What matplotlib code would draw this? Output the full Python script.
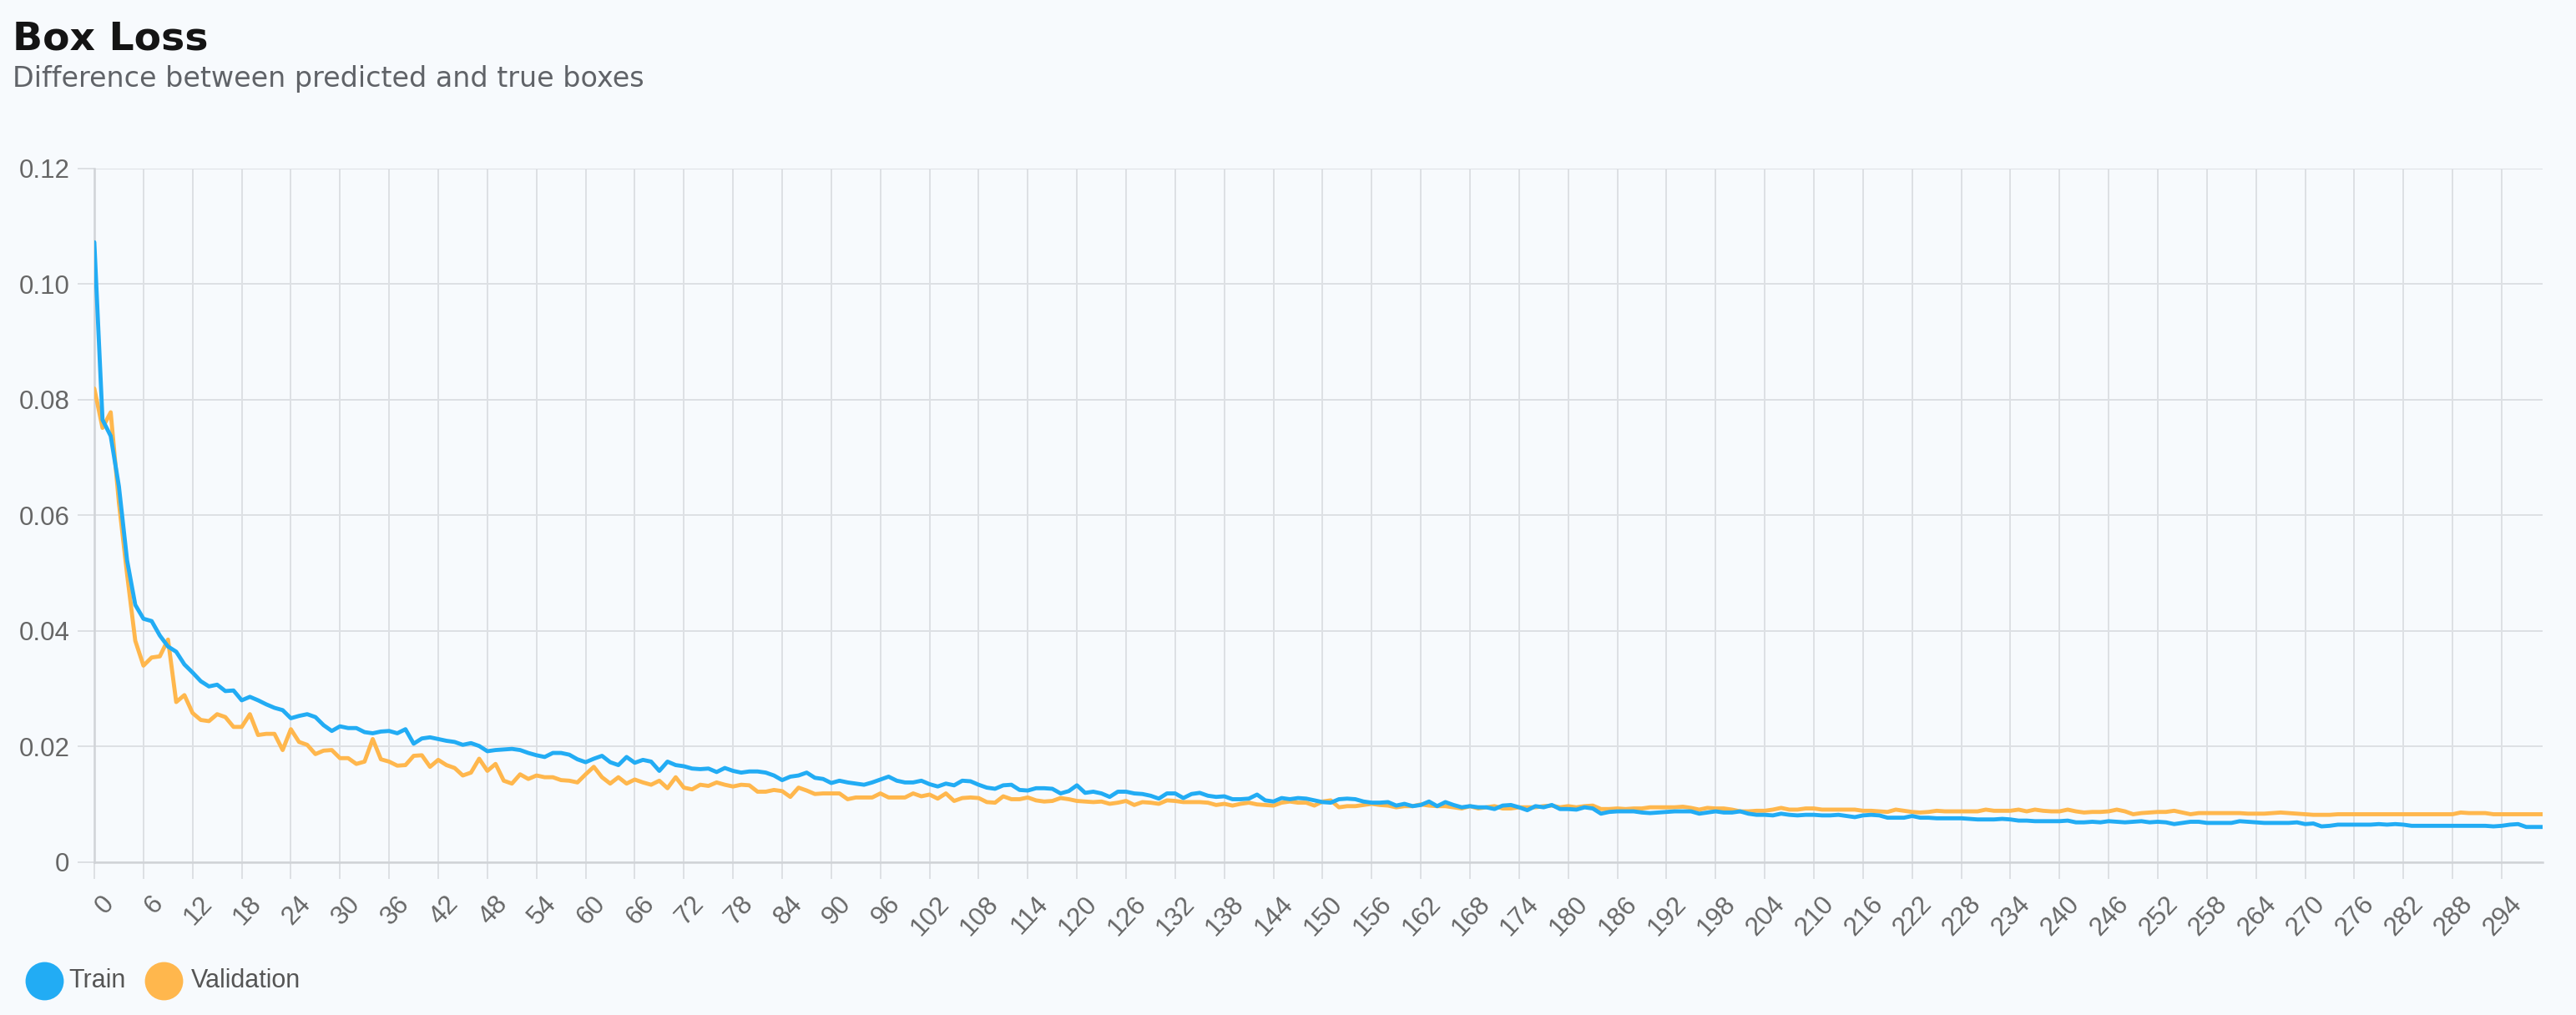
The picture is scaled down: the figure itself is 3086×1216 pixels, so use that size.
import matplotlib
matplotlib.use("Agg")
import matplotlib.pyplot as plt
from matplotlib.lines import Line2D
from matplotlib.transforms import ScaledTranslation

title = "Box Loss"
subtitle = "Difference between predicted and true boxes"
series_names = ["Train", "Validation"]

train = [
    0.1072, 0.0765, 0.0737, 0.0650, 0.0522, 0.0445, 0.0421, 0.0417, 0.0392, 0.0373,
    0.0364, 0.0342, 0.0328, 0.0313, 0.0304, 0.0307, 0.0296, 0.0297, 0.0280, 0.0286,
    0.0280, 0.0273, 0.0267, 0.0263, 0.0249, 0.0253, 0.0256, 0.0251, 0.0237, 0.0227,
    0.0235, 0.0232, 0.0232, 0.0225, 0.0223, 0.0226, 0.0227, 0.0223, 0.0230, 0.0205,
    0.0214, 0.0216, 0.0213, 0.0210, 0.0208, 0.0203, 0.0206, 0.0201, 0.0192, 0.0194,
    0.0195, 0.0196, 0.0194, 0.0189, 0.0185, 0.0182, 0.0189, 0.0189, 0.0186, 0.0178,
    0.0173, 0.0179, 0.0184, 0.0173, 0.0168, 0.0182, 0.0172, 0.0177, 0.0174, 0.0158,
    0.0174, 0.0168, 0.0166, 0.0162, 0.0161, 0.0162, 0.0156, 0.0163, 0.0158, 0.0155,
    0.0157, 0.0157, 0.0155, 0.0150, 0.0142, 0.0148, 0.0150, 0.0155, 0.0146, 0.0144,
    0.0137, 0.0141, 0.0138, 0.0136, 0.0134, 0.0138, 0.0143, 0.0148, 0.0141, 0.0138,
    0.0138, 0.0141, 0.0135, 0.0131, 0.0136, 0.0133, 0.0141, 0.0140, 0.0134, 0.0129,
    0.0127, 0.0133, 0.0134, 0.0125, 0.0124, 0.0128, 0.0128, 0.0127, 0.0119, 0.0123,
    0.0133, 0.0120, 0.0122, 0.0119, 0.0113, 0.0122, 0.0122, 0.0119, 0.0118, 0.0115,
    0.0110, 0.0119, 0.0119, 0.0111, 0.0118, 0.0120, 0.0115, 0.0113, 0.0114, 0.0109,
    0.0109, 0.0110, 0.0117, 0.0107, 0.0105, 0.0111, 0.0109, 0.0111, 0.0110, 0.0107,
    0.0104, 0.0103, 0.0109, 0.0110, 0.0109, 0.0105, 0.0103, 0.0103, 0.0104, 0.0098,
    0.0101, 0.0097, 0.0099, 0.0105, 0.0097, 0.0104, 0.0099, 0.0095, 0.0097, 0.0095,
    0.0095, 0.0092, 0.0098, 0.0099, 0.0095, 0.0090, 0.0097, 0.0095, 0.0099, 0.0092,
    0.0092, 0.0091, 0.0095, 0.0093, 0.0084, 0.0087, 0.0088, 0.0088, 0.0088, 0.0086,
    0.0085, 0.0086, 0.0087, 0.0088, 0.0088, 0.0088, 0.0084, 0.0086, 0.0088, 0.0086,
    0.0086, 0.0088, 0.0084, 0.0082, 0.0082, 0.0081, 0.0084, 0.0082, 0.0081, 0.0082,
    0.0082, 0.0081, 0.0081, 0.0082, 0.0080, 0.0078, 0.0081, 0.0082, 0.0081, 0.0077,
    0.0077, 0.0077, 0.0080, 0.0077, 0.0077, 0.0076, 0.0076, 0.0076, 0.0076, 0.0075,
    0.0074, 0.0074, 0.0074, 0.0075, 0.0074, 0.0072, 0.0072, 0.0071, 0.0071, 0.0071,
    0.0071, 0.0072, 0.0069, 0.0069, 0.0070, 0.0069, 0.0071, 0.0070, 0.0069, 0.0070,
    0.0071, 0.0069, 0.0070, 0.0069, 0.0066, 0.0068, 0.0070, 0.0070, 0.0068, 0.0068,
    0.0068, 0.0068, 0.0071, 0.0070, 0.0069, 0.0068, 0.0068, 0.0068, 0.0068, 0.0069,
    0.0066, 0.0067, 0.0062, 0.0063, 0.0065, 0.0065, 0.0065, 0.0065, 0.0065, 0.0066,
    0.0065, 0.0066, 0.0065, 0.0063, 0.0063, 0.0063, 0.0063, 0.0063, 0.0063, 0.0063,
    0.0063, 0.0063, 0.0063, 0.0062, 0.0063, 0.0065, 0.0066, 0.0061, 0.0061, 0.0061,
]

validation = [
    0.0819, 0.0751, 0.0778, 0.0622, 0.0498, 0.0383, 0.0340, 0.0354, 0.0356, 0.0385,
    0.0277, 0.0289, 0.0258, 0.0246, 0.0244, 0.0256, 0.0251, 0.0234, 0.0234, 0.0256,
    0.0220, 0.0222, 0.0222, 0.0194, 0.0230, 0.0208, 0.0203, 0.0187, 0.0193, 0.0194,
    0.0180, 0.0180, 0.0170, 0.0174, 0.0213, 0.0178, 0.0174, 0.0167, 0.0168, 0.0184,
    0.0185, 0.0165, 0.0177, 0.0168, 0.0163, 0.0150, 0.0155, 0.0179, 0.0158, 0.0170,
    0.0141, 0.0136, 0.0152, 0.0144, 0.0150, 0.0147, 0.0147, 0.0142, 0.0141, 0.0138,
    0.0152, 0.0165, 0.0147, 0.0136, 0.0147, 0.0136, 0.0143, 0.0138, 0.0134, 0.0141,
    0.0128, 0.0147, 0.0129, 0.0126, 0.0134, 0.0132, 0.0138, 0.0134, 0.0131, 0.0134,
    0.0133, 0.0122, 0.0122, 0.0125, 0.0123, 0.0113, 0.0129, 0.0124, 0.0118, 0.0119,
    0.0119, 0.0119, 0.0109, 0.0112, 0.0112, 0.0112, 0.0119, 0.0112, 0.0112, 0.0112,
    0.0119, 0.0114, 0.0117, 0.0110, 0.0119, 0.0106, 0.0111, 0.0112, 0.0111, 0.0104,
    0.0103, 0.0114, 0.0109, 0.0109, 0.0112, 0.0107, 0.0105, 0.0106, 0.0111, 0.0109,
    0.0106, 0.0105, 0.0104, 0.0105, 0.0101, 0.0103, 0.0106, 0.0099, 0.0104, 0.0103,
    0.0101, 0.0107, 0.0106, 0.0104, 0.0104, 0.0104, 0.0103, 0.0099, 0.0101, 0.0098,
    0.0101, 0.0103, 0.0100, 0.0099, 0.0098, 0.0103, 0.0105, 0.0103, 0.0103, 0.0098,
    0.0105, 0.0107, 0.0095, 0.0097, 0.0097, 0.0099, 0.0101, 0.0099, 0.0098, 0.0095,
    0.0097, 0.0097, 0.0100, 0.0098, 0.0097, 0.0097, 0.0095, 0.0093, 0.0097, 0.0093,
    0.0095, 0.0097, 0.0093, 0.0093, 0.0095, 0.0095, 0.0095, 0.0097, 0.0098, 0.0095,
    0.0097, 0.0095, 0.0097, 0.0098, 0.0092, 0.0092, 0.0093, 0.0092, 0.0093, 0.0093,
    0.0095, 0.0095, 0.0095, 0.0095, 0.0096, 0.0094, 0.0091, 0.0094, 0.0093, 0.0093,
    0.0091, 0.0088, 0.0088, 0.0089, 0.0089, 0.0091, 0.0094, 0.0091, 0.0091, 0.0093,
    0.0093, 0.0091, 0.0091, 0.0091, 0.0091, 0.0091, 0.0089, 0.0089, 0.0088, 0.0087,
    0.0091, 0.0089, 0.0087, 0.0086, 0.0087, 0.0089, 0.0088, 0.0088, 0.0088, 0.0088,
    0.0088, 0.0091, 0.0089, 0.0089, 0.0089, 0.0091, 0.0088, 0.0091, 0.0089, 0.0088,
    0.0088, 0.0091, 0.0088, 0.0086, 0.0087, 0.0087, 0.0088, 0.0091, 0.0088, 0.0083,
    0.0085, 0.0086, 0.0087, 0.0087, 0.0089, 0.0086, 0.0083, 0.0085, 0.0085, 0.0085,
    0.0085, 0.0085, 0.0085, 0.0084, 0.0084, 0.0084, 0.0085, 0.0086, 0.0085, 0.0084,
    0.0083, 0.0082, 0.0082, 0.0082, 0.0083, 0.0083, 0.0083, 0.0083, 0.0083, 0.0083,
    0.0083, 0.0083, 0.0083, 0.0083, 0.0083, 0.0083, 0.0083, 0.0083, 0.0083, 0.0086,
    0.0085, 0.0085, 0.0085, 0.0083, 0.0083, 0.0083, 0.0083, 0.0083, 0.0083, 0.0083,
]

epochs = list(range(len(train)))
x_tick_values = list(range(0, 300, 6))
x_tick_labels = [str(v) for v in x_tick_values]
y_tick_values = [0, 0.02, 0.04, 0.06, 0.08, 0.10, 0.12]
y_tick_labels = ["0", "0.02", "0.04", "0.06", "0.08", "0.10", "0.12"]

BG = "#F7FAFD"
BLUE = "#22ACF4"
ORANGE = "#FFB74D"
GRID = "#DDE0E4"
AXIS = "#D0D3D7"
TICKTXT = "#666666"

W, H = 3086, 1216
fig = plt.figure(figsize=(W / 100, H / 100), dpi=100, facecolor=BG)

left_px, right_px, top_px, bottom_px = 113, 3046, 201.5, 1033
ax = fig.add_axes([left_px / W, 1 - bottom_px / H, (right_px - left_px) / W, (bottom_px - top_px) / H])
ax.set_facecolor(BG)

ax.plot(epochs, validation, color=ORANGE, lw=3.5, solid_joinstyle="round", solid_capstyle="round", zorder=3)
ax.plot(epochs, train, color=BLUE, lw=3.5, solid_joinstyle="round", solid_capstyle="round", zorder=4)

ax.set_xlim(0, len(train) - 1)
ax.set_ylim(0, 0.12)

ax.set_xticks(x_tick_values)
ax.set_xticklabels(x_tick_labels, rotation=47, ha="right", va="center", rotation_mode="anchor",
                   fontfamily="Liberation Sans", fontsize=22.5, color=TICKTXT)
ax.set_yticks(y_tick_values)
ax.set_yticklabels(y_tick_labels, fontfamily="Liberation Sans", fontsize=22.5, color=TICKTXT)

ax.tick_params(axis="x", length=14.4, width=1.4, color=GRID, pad=18)
ax.tick_params(axis="y", length=14.4, width=1.4, color=GRID, pad=7)

offset = ScaledTranslation(0.19, 0, fig.dpi_scale_trans)
for lbl in ax.get_xticklabels():
    lbl.set_transform(lbl.get_transform() + offset)

ax.grid(True, color=GRID, lw=1.4, zorder=0)
ax.set_axisbelow(True)
for side in ("top", "right"):
    ax.spines[side].set_visible(False)
for side in ("left", "bottom"):
    ax.spines[side].set_color(AXIS)
    ax.spines[side].set_linewidth(1.8)

fig.text(15 / W, 1 - 60 / H, title, fontsize=34, fontweight="bold", fontfamily="DejaVu Sans",
         color="#141414", va="baseline", ha="left")
fig.text(15 / W, 1 - 104 / H, subtitle, fontsize=24, fontfamily="DejaVu Sans",
         color="#606368", va="baseline", ha="left")

# legend
legend_y = 1 - 1175 / H
for name, color, cx, tx in [(series_names[0], BLUE, 53, 82), (series_names[1], ORANGE, 196, 229)]:
    fig.add_artist(Line2D([cx / W], [legend_y], marker="o", markersize=33, color=color,
                          markeredgewidth=0, linestyle="none", transform=fig.transFigure))
    fig.text(tx / W, legend_y, name, fontsize=22, fontfamily="Liberation Sans",
             color="#555555", va="center", ha="left")

fig.savefig("out.png", dpi=100, facecolor=BG)
